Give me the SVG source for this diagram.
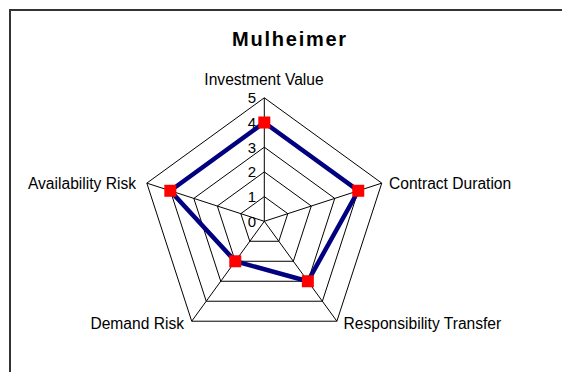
<svg xmlns="http://www.w3.org/2000/svg" width="562" height="372" viewBox="0 0 562 372">
<style>
text{font-family:"Liberation Sans",Arial,sans-serif;font-size:15.6px;fill:#000}
.num{font-size:15px}
.title{font-size:20px;font-weight:bold;letter-spacing:1.75px}
.grid{fill:none;stroke:#000;stroke-width:1}
.series{fill:none;stroke:#000080;stroke-width:4.5;stroke-linejoin:miter}
.mk{fill:#ff0000}
</style>
<rect x="0" y="0" width="562" height="372" fill="#fff"/>
<rect x="10" y="10" width="600" height="420" fill="#fff" stroke="#333" stroke-width="2"/>
<text class="title" x="290" y="46" text-anchor="middle">Mulheimer</text>
<g id="grid">
<polygon class="grid" points="264.3,196.6 287.79,213.67 278.82,241.28 249.78,241.28 240.81,213.67"/>
<polygon class="grid" points="264.3,171.9 311.28,206.03 293.34,261.26 235.26,261.26 217.32,206.03"/>
<polygon class="grid" points="264.3,147.2 334.78,198.40 307.86,281.25 220.74,281.25 193.82,198.40"/>
<polygon class="grid" points="264.3,122.5 358.27,190.77 322.38,301.23 206.22,301.23 170.33,190.77"/>
<polygon class="grid" points="264.3,97.8 381.76,183.14 336.89,321.21 191.71,321.21 146.84,183.14"/>
<line class="grid" x1="264.3" y1="221.3" x2="264.3" y2="97.8"/>
<line class="grid" x1="264.3" y1="221.3" x2="381.76" y2="183.14"/>
<line class="grid" x1="264.3" y1="221.3" x2="336.89" y2="321.21"/>
<line class="grid" x1="264.3" y1="221.3" x2="191.71" y2="321.21"/>
<line class="grid" x1="264.3" y1="221.3" x2="146.84" y2="183.14"/>
</g>
<g id="scale" text-anchor="end">
<text class="num" x="256" y="226.7">0</text>
<text class="num" x="256" y="202">1</text>
<text class="num" x="256" y="177.3">2</text>
<text class="num" x="256" y="152.6">3</text>
<text class="num" x="256" y="127.9">4</text>
<text class="num" x="256" y="103.2">5</text>
</g>
<g id="connectors">
<polygon class="series" points="264.3,122.5 358.27,190.77 307.86,281.25 235.26,261.26 170.33,190.77"/>
</g>
<g id="node-investment-value">
<rect class="mk" x="258.3" y="116.5" width="12" height="12"/>
<text x="264" y="85" text-anchor="middle">Investment Value</text>
</g>
<g id="node-contract-duration">
<rect class="mk" x="352.27" y="184.77" width="12" height="12"/>
<text x="389" y="188.5">Contract Duration</text>
</g>
<g id="node-responsibility-transfer">
<rect class="mk" x="301.86" y="275.25" width="12" height="12"/>
<text x="343.5" y="329">Responsibility Transfer</text>
</g>
<g id="node-demand-risk">
<rect class="mk" x="229.26" y="255.26" width="12" height="12"/>
<text x="184" y="329" text-anchor="end">Demand Risk</text>
</g>
<g id="node-availability-risk">
<rect class="mk" x="164.33" y="184.77" width="12" height="12"/>
<text x="136" y="188.5" text-anchor="end">Availability Risk</text>
</g>
</svg>
